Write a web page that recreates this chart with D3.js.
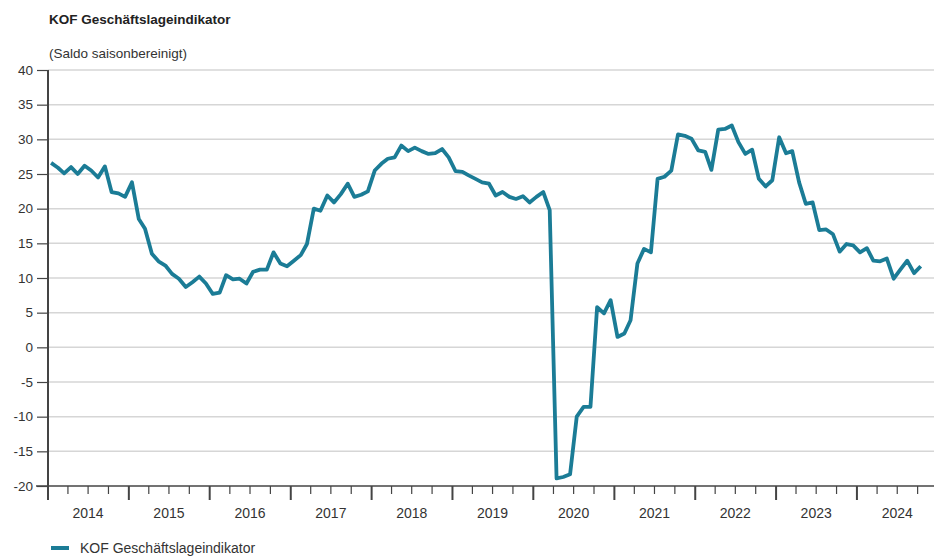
<!DOCTYPE html>
<html>
<head>
<meta charset="utf-8">
<script src="https://cdn.jsdelivr.net/npm/d3@7"></script>
<style>
  body { margin: 0; background: #fff; }
  svg { display: block; font-family: "Liberation Sans", Arial, sans-serif; }
  .tick text { fill: #333; }
</style>
</head>
<body>
<svg id="chart" width="934" height="556"></svg>
<script>
const title = 'KOF Geschäftslageindikator';
const subtitle = '(Saldo saisonbereinigt)';
const seriesName = 'KOF Geschäftslageindikator';
const startMonth = '2014-01';

// monthly values, Jan 2014 onward
const values = [
    26.6, 25.9, 25.1, 26.0, 25.0, 26.2, 25.5, 24.5, 26.1, 22.4, 22.2, 21.7,
    23.8, 18.5, 17.1, 13.5, 12.4, 11.8, 10.6, 9.9, 8.7, 9.4, 10.2, 9.2,
    7.7, 7.9, 10.4, 9.8, 9.9, 9.2, 10.9, 11.2, 11.2, 13.7, 12.1, 11.7,
    12.5, 13.3, 14.9, 20.0, 19.7, 21.9, 20.9, 22.1, 23.6, 21.7, 22.0, 22.5,
    25.5, 26.5, 27.2, 27.4, 29.1, 28.3, 28.8, 28.3, 27.9, 28.0, 28.6, 27.4,
    25.4, 25.3, 24.8, 24.3, 23.8, 23.6, 21.9, 22.4, 21.7, 21.4, 21.8, 20.9,
    21.7, 22.4, 19.8, -18.9, -18.7, -18.3, -10.0, -8.6, -8.6, 5.8, 4.9, 6.8,
    1.5, 2.0, 3.9, 12.1, 14.2, 13.7, 24.3, 24.6, 25.5, 30.7, 30.5, 30.1,
    28.4, 28.2, 25.6, 31.4, 31.5, 32.0, 29.6, 27.9, 28.5, 24.3, 23.2, 24.1,
    30.3, 28.0, 28.3, 23.8, 20.7, 20.9, 16.9, 17.0, 16.3, 13.8, 14.9, 14.7,
    13.7, 14.3, 12.5, 12.4, 12.8, 9.9, 11.2, 12.5, 10.7, 11.7
];

const yTicks = [-20, -15, -10, -5, 0, 5, 10, 15, 20, 25, 30, 35, 40];
const years = [2014, 2015, 2016, 2017, 2018, 2019, 2020, 2021, 2022, 2023, 2024];

const lineColor = '#1b7c96';
const margin = { left: 48, top: 70, bottom: 486 };

const parse = d3.timeParse('%Y-%m');
const t0 = parse(startMonth);
const data = values.map((v, i) => ({ date: d3.timeDay.offset(d3.timeMonth.offset(t0, i), 14), value: v }));

const svg = d3.select('#chart');

const x = d3.scaleTime()
    .domain([new Date(2014, 0, 1), new Date(2025, 0, 1)])
    .range([margin.left, 938]);
const y = d3.scaleLinear().domain([-20, 40]).range([margin.bottom, margin.top]);

// grid
svg.append('g').selectAll('line').data(yTicks.filter(d => d > -20)).enter().append('line')
    .attr('x1', margin.left).attr('x2', 934)
    .attr('y1', d => y(d)).attr('y2', d => y(d))
    .attr('stroke', '#d6d6d6').attr('stroke-width', 1.5);

// y axis
const yAxis = svg.append('g').attr('transform', `translate(${margin.left},0)`)
    .call(d3.axisLeft(y).tickValues(yTicks).tickSize(11).tickPadding(4).tickFormat(d => String(d)));
yAxis.select('.domain').remove();
yAxis.selectAll('.tick line').attr('stroke', '#444').attr('stroke-width', 1.2);
yAxis.selectAll('.tick text').attr('font-size', 13.5);
svg.append('line')
    .attr('x1', margin.left).attr('x2', margin.left)
    .attr('y1', margin.top).attr('y2', 500)
    .attr('stroke', '#444').attr('stroke-width', 2);

// x axis
const xg = svg.append('g').attr('transform', `translate(0,${margin.bottom})`);
xg.append('line').attr('x1', 36).attr('x2', 934).attr('stroke', '#444').attr('stroke-width', 1.5);
const quarters = d3.timeMonth.every(3).range(new Date(2014, 0, 1), new Date(2025, 0, 1));
xg.selectAll('line.q').data(quarters).enter().append('line').attr('class', 'q')
    .attr('x1', d => x(d)).attr('x2', d => x(d))
    .attr('y1', 0).attr('y2', d => d.getMonth() === 0 ? 14 : 8)
    .attr('stroke', '#444').attr('stroke-width', d => d.getMonth() === 0 ? 2 : 1.2);
xg.selectAll('text').data(years).enter().append('text')
    .attr('x', d => x(new Date(d, 6, 1)))
    .attr('y', 32)
    .attr('text-anchor', 'middle')
    .attr('font-size', 14)
    .attr('fill', '#333')
    .text(d => d);

// line
const line = d3.line().x(d => x(d.date)).y(d => y(d.value));
svg.append('path').datum(data)
    .attr('d', line)
    .attr('fill', 'none')
    .attr('stroke', lineColor)
    .attr('stroke-width', 3.8)
    .attr('stroke-linejoin', 'round');

// titles
svg.append('text').attr('x', 49).attr('y', 24).attr('font-size', 13.5).attr('font-weight', 'bold')
    .attr('fill', '#222').text(title);
svg.append('text').attr('x', 49).attr('y', 58).attr('font-size', 13.5)
    .attr('fill', '#333').text(subtitle);

// legend
const lg = svg.append('g').attr('transform', 'translate(51,548)');
lg.append('line').attr('x1', 0).attr('x2', 18).attr('stroke', lineColor).attr('stroke-width', 4);
lg.append('text').attr('x', 29).attr('y', 5).attr('font-size', 14).attr('fill', '#333').text(seriesName);
</script>
</body>
</html>
